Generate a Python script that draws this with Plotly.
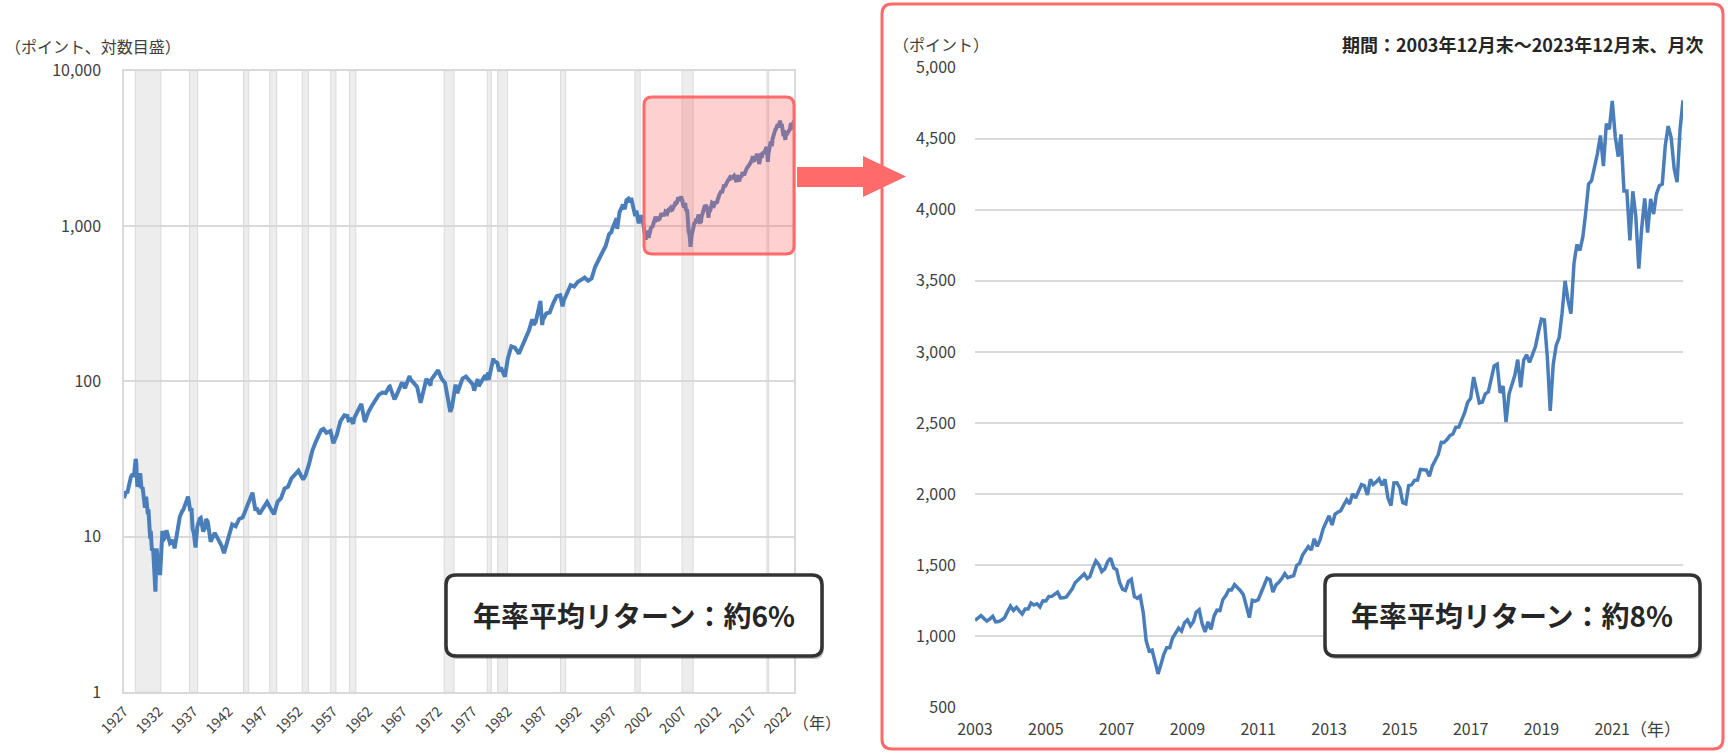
import plotly.graph_objects as go
import pandas as pd

W, H = 1728, 753

# ---------------- data ----------------
left_dates = [
    "1927-12", "1928-03", "1928-06", "1928-09", "1928-12",
    "1929-03", "1929-05", "1929-08", "1929-09", "1929-10", "1929-11", "1929-12",
    "1930-03", "1930-04", "1930-06", "1930-08", "1930-10", "1930-12",
    "1931-02", "1931-05", "1931-06", "1931-09", "1931-10", "1931-12",
    "1932-02", "1932-05", "1932-06", "1932-07", "1932-08", "1932-10", "1932-12",
    "1933-02", "1933-04", "1933-06", "1933-07", "1933-09", "1933-12",
    "1934-01", "1934-07", "1934-12",
    "1935-03", "1935-09", "1935-12",
    "1936-04", "1936-06", "1936-12",
    "1937-02", "1937-06", "1937-08", "1937-10", "1937-12",
    "1938-03", "1938-06", "1938-10", "1938-12",
    "1939-04", "1939-08", "1939-09", "1939-12",
    "1940-05", "1940-12", "1941-06", "1941-12",
    "1942-04", "1942-12", "1943-06", "1943-12",
    "1944-06", "1944-12", "1945-06", "1945-12",
    "1946-05", "1946-10", "1946-12", "1947-05", "1947-12",
    "1948-06", "1948-12", "1949-06", "1949-12",
    "1950-06", "1950-12", "1951-06", "1951-12",
    "1952-06", "1952-12", "1953-08", "1953-12",
    "1954-06", "1954-12", "1955-06", "1955-09", "1955-12",
    "1956-03", "1956-07", "1956-12", "1957-07", "1957-10", "1957-12",
    "1958-06", "1958-12", "1959-07", "1959-12",
    "1960-02", "1960-06", "1960-10", "1960-12",
    "1961-06", "1961-11", "1961-12", "1962-06", "1962-12",
    "1963-06", "1963-12", "1964-06", "1964-12", "1965-06", "1965-12",
    "1966-01", "1966-09", "1966-12", "1967-09", "1967-12",
    "1968-03", "1968-11", "1968-12", "1969-06", "1969-12",
    "1970-06", "1970-12", "1971-04", "1971-11", "1971-12", "1972-12",
    "1973-06", "1973-12", "1974-09", "1974-12",
    "1975-06", "1975-09", "1975-12", "1976-06", "1976-12", "1977-12",
    "1978-02", "1978-08", "1978-10", "1978-12",
    "1979-09", "1979-10", "1979-12",
    "1980-02", "1980-03", "1980-11", "1980-12",
    "1981-06", "1981-09", "1981-12", "1982-07", "1982-12",
    "1983-06", "1983-12", "1984-07", "1984-12", "1985-06", "1985-12",
    "1986-06", "1986-09", "1986-12", "1987-08", "1987-11", "1987-12",
    "1988-06", "1988-12", "1989-06", "1989-12",
    "1990-06", "1990-10", "1990-12", "1991-06", "1991-12",
    "1992-06", "1992-12", "1993-06", "1993-12", "1994-06", "1994-12",
    "1995-06", "1995-12", "1996-06", "1996-12",
    "1997-06", "1997-10", "1997-12", "1998-07", "1998-08", "1998-12",
    "1999-06", "1999-09", "1999-12",
    "2000-03", "2000-05", "2000-08", "2000-12",
    "2001-03", "2001-05", "2001-09", "2001-12",
    "2002-03", "2002-07", "2002-09", "2002-11", "2002-12",
    "2003-02", "2003-06", "2003-09", "2003-11",
]
left_values = [
    17.66, 19.28, 19.37, 21.4, 24.35,
    25.3, 24.2, 31.7, 30.0, 24.5, 21.0, 21.45,
    25.0, 25.5, 20.5, 20.8, 17.9, 15.34,
    18.1, 14.0, 15.0, 9.7, 10.9, 8.12,
    8.4, 4.47, 4.43, 6.1, 8.4, 6.9, 6.89,
    5.66, 8.3, 10.9, 9.9, 9.7, 10.10,
    11.0, 9.1, 9.50,
    8.4, 11.6, 13.43,
    14.6, 14.9, 17.18,
    18.1, 14.6, 15.3, 11.2, 10.55,
    8.5, 11.56, 13.06, 13.21,
    10.8, 11.5, 13.0, 12.49,
    9.27, 10.58, 9.6, 8.69,
    7.84, 9.77, 12.0, 11.67,
    13.0, 13.28, 15.1, 17.36,
    19.2, 14.7, 15.30, 14.0, 15.30,
    16.74, 15.20, 13.97, 16.76,
    17.69, 20.41, 20.96, 23.77,
    24.96, 26.57, 23.32, 24.81,
    29.21, 35.98, 41.03, 43.67, 45.48,
    48.48, 49.39, 46.67, 47.91, 41.06, 39.99,
    45.24, 55.21, 60.51, 59.89,
    56.12, 56.92, 53.39, 58.11,
    64.64, 71.32, 71.55, 54.75, 63.10,
    69.37, 75.02, 81.69, 84.75, 84.12, 92.43,
    92.88, 76.56, 80.33, 96.71, 96.47,
    90.20, 108.37, 103.86, 97.71, 92.06,
    72.72, 92.15, 103.95, 93.99, 102.09, 118.05,
    104.26, 97.55, 63.54, 68.56,
    95.19, 83.87, 90.19, 104.28, 107.46, 95.10,
    87.04, 103.29, 93.15, 96.11,
    109.32, 101.82, 107.94,
    113.66, 102.09, 140.52, 135.76,
    131.21, 116.18, 122.55, 107.09, 140.64,
    168.11, 164.93, 150.66, 167.24, 191.85, 211.28,
    250.84, 231.32, 242.17, 329.80, 230.30, 247.08,
    273.50, 277.72, 317.98, 353.40,
    358.02, 304.00, 330.22, 371.16, 417.09,
    408.14, 435.71, 450.53, 466.45, 444.27, 459.27,
    544.75, 615.93, 670.63, 740.74,
    885.14, 914.62, 970.43, 1120.67, 957.28, 1229.23,
    1372.71, 1282.71, 1469.25,
    1498.58, 1420.60, 1517.68, 1320.28,
    1160.33, 1255.82, 1040.94, 1148.08,
    1147.39, 911.62, 815.28, 936.31, 879.82,
    841.15, 974.50, 995.97, 1058.20,
]

right_start = "2003-12"
right_values = [
    1111.92,
    1131.13, 1144.94, 1126.21, 1107.30, 1120.68, 1140.84, 1101.72, 1104.24, 1114.58, 1130.20, 1173.82, 1211.92,
    1181.27, 1203.60, 1180.59, 1156.85, 1191.50, 1191.33, 1234.18, 1220.33, 1228.81, 1207.01, 1249.48, 1248.29,
    1280.08, 1280.66, 1294.83, 1310.61, 1270.09, 1270.20, 1276.66, 1303.82, 1335.85, 1377.94, 1400.63, 1418.30,
    1438.24, 1406.82, 1420.86, 1482.37, 1530.62, 1503.35, 1455.27, 1473.99, 1526.75, 1549.38, 1481.14, 1468.36,
    1378.55, 1330.63, 1322.70, 1385.59, 1400.38, 1280.00, 1267.38, 1282.83, 1166.36, 968.75, 896.24, 903.25,
    825.88, 735.09, 797.87, 872.81, 919.14, 919.32, 987.48, 1020.62, 1057.08, 1036.19, 1095.63, 1115.10,
    1073.87, 1104.49, 1169.43, 1186.69, 1089.41, 1030.71, 1101.60, 1049.33, 1141.20, 1183.26, 1180.55, 1257.64,
    1286.12, 1327.22, 1325.83, 1363.61, 1345.20, 1320.64, 1292.28, 1218.89, 1131.42, 1253.30, 1246.96, 1257.60,
    1312.41, 1365.68, 1408.47, 1397.91, 1310.33, 1362.16, 1379.32, 1406.58, 1440.67, 1412.16, 1416.18, 1426.19,
    1498.11, 1514.68, 1569.19, 1597.57, 1630.74, 1606.28, 1685.73, 1632.97, 1681.55, 1756.54, 1805.81, 1848.36,
    1782.59, 1859.45, 1872.34, 1883.95, 1923.57, 1960.23, 1930.67, 2003.37, 1972.29, 2018.05, 2067.56, 2058.90,
    1994.99, 2104.50, 2067.89, 2085.51, 2107.39, 2063.11, 2103.84, 1972.18, 1920.03, 2079.36, 2080.41, 2043.94,
    1940.24, 1932.23, 2059.74, 2065.30, 2096.95, 2098.86, 2173.60, 2170.95, 2168.27, 2126.15, 2198.81, 2238.83,
    2278.87, 2363.64, 2362.72, 2384.20, 2411.80, 2423.41, 2470.30, 2471.65, 2519.36, 2575.26, 2647.58, 2673.61,
    2823.81, 2713.83, 2640.87, 2648.05, 2705.27, 2718.37, 2816.29, 2901.52, 2913.98, 2711.74, 2760.17, 2506.85,
    2704.10, 2784.49, 2834.40, 2945.83, 2752.06, 2941.76, 2980.38, 2926.46, 2976.74, 3037.56, 3140.98, 3230.78,
    3225.52, 2954.22, 2584.59, 2912.43, 3044.31, 3100.29, 3271.12, 3500.31, 3363.00, 3269.96, 3621.63, 3756.07,
    3714.24, 3811.15, 3972.89, 4181.17, 4204.11, 4297.50, 4395.26, 4522.68, 4307.54, 4605.38, 4567.00, 4766.18,
    4515.55, 4373.94, 4530.41, 4131.93, 4132.15, 3785.38, 4130.29, 3955.00, 3585.62, 3871.98, 4080.11, 3839.50,
    4076.60, 3970.15, 4109.31, 4169.48, 4179.83, 4450.38, 4588.96, 4507.66, 4288.05, 4193.80, 4567.80, 4769.83,
]

recession_start = ["1929-08", "1937-05", "1945-02", "1948-11", "1953-07", "1957-08", "1960-04",
                   "1973-11", "1980-01", "1981-07", "1990-07", "2001-03", "2007-12", "2020-02"]
recession_end = ["1933-03", "1938-06", "1945-10", "1949-10", "1954-05", "1958-04", "1961-02",
                 "1975-03", "1980-07", "1982-11", "1991-03", "2001-11", "2009-06", "2020-04"]

left_tick_years = [1927, 1932, 1937, 1942, 1947, 1952, 1957, 1962, 1967, 1972,
                   1977, 1982, 1987, 1992, 1997, 2002, 2007, 2012, 2017, 2022]
right_tick_years = [2003, 2005, 2007, 2009, 2011, 2013, 2015, 2017, 2019, 2021]
left_y_ticks = [1, 10, 100, 1000, 10000]
left_y_text = ["1", "10", "100", "1,000", "10,000"]
right_y_ticks = [500, 1000, 1500, 2000, 2500, 3000, 3500, 4000, 4500, 5000]

left_note = "年率平均リターン：約6%"
right_note = "年率平均リターン：約8%"
period_text = "期間：2003年12月末～2023年12月末、月次"

# ---------------- build ----------------
right_dates = pd.date_range(right_start + "-01", periods=len(right_values), freq="MS")
left_x = [pd.Timestamp(d + "-01") for d in left_dates] + list(right_dates)
left_y = left_values + right_values

BLUE = "#4A7EBB"
RED = "#FF6B6B"
GRID = "#D9D9D9"
TXT = "#404040"
FONT = "Noto Sans CJK JP, Noto Sans, sans-serif"


def fx(p):
    return p / W


def fy(p):
    return 1 - p / H


def rrect(x0, y0, x1, y1, r):
    def P(x, y):
        return f"{fx(x):.6f},{fy(y):.6f}"
    return (f"M {P(x0 + r, y0)} L {P(x1 - r, y0)} Q {P(x1, y0)} {P(x1, y0 + r)} "
            f"L {P(x1, y1 - r)} Q {P(x1, y1)} {P(x1 - r, y1)} L {P(x0 + r, y1)} "
            f"Q {P(x0, y1)} {P(x0, y1 - r)} L {P(x0, y0 + r)} Q {P(x0, y0)} {P(x0 + r, y0)} Z")


def poly(pts):
    return "M " + " L ".join(f"{fx(x):.6f},{fy(y):.6f}" for x, y in pts) + " Z"


fig = go.Figure()
fig.add_trace(go.Scatter(x=left_x, y=left_y, mode="lines",
                         line=dict(color=BLUE, width=4), xaxis="x", yaxis="y",
                         showlegend=False, hoverinfo="skip"))
fig.add_trace(go.Scatter(x=right_dates, y=right_values, mode="lines",
                         line=dict(color=BLUE, width=3.5), xaxis="x2", yaxis="y2",
                         showlegend=False, hoverinfo="skip"))

shapes = []
# recession bands
for s, e in zip(recession_start, recession_end):
    x0 = pd.Timestamp(s + "-01") - pd.Timedelta(days=15)
    x1 = pd.Timestamp(e + "-01") + pd.Timedelta(days=15)
    shapes.append(dict(type="rect", xref="x", yref="y domain", x0=x0, x1=x1, y0=0, y1=1,
                       fillcolor="#EDEDED", line=dict(color="#DADADA", width=1), layer="below"))

# highlight box on left chart
shapes.append(dict(type="path", xref="paper", yref="paper", path=rrect(644, 97, 794, 254, 8),
                   fillcolor="rgba(255,99,99,0.3)", line=dict(color=RED, width=3), layer="above"))
# arrow
shapes.append(dict(type="path", xref="paper", yref="paper",
                   path=poly([(797, 167), (863, 167), (863, 156), (906, 176.5),
                              (863, 197), (863, 187), (797, 187)]),
                   fillcolor=RED, line=dict(width=0), layer="above"))
# right panel border
shapes.append(dict(type="path", xref="paper", yref="paper", path=rrect(882, 4, 1723, 749, 10),
                   fillcolor="rgba(0,0,0,0)", line=dict(color=RED, width=3), layer="above"))
# note boxes (shadow + box)
for (x0, y0, x1, y1) in [(446, 575, 822, 656), (1325, 575, 1700, 656)]:
    shapes.append(dict(type="path", xref="paper", yref="paper", path=rrect(x0 + 2, y0 + 3, x1 + 2, y1 + 3, 10),
                       fillcolor="rgba(0,0,0,0.25)", line=dict(width=0), layer="above"))
    shapes.append(dict(type="path", xref="paper", yref="paper", path=rrect(x0, y0, x1, y1, 10),
                       fillcolor="white", line=dict(color="#333333", width=3.5), layer="above"))

annotations = [
    dict(text="（ポイント、対数目盛）", x=fx(3), y=fy(46), xref="paper", yref="paper",
         xanchor="left", yanchor="middle", showarrow=False, font=dict(size=16, color=TXT, family=FONT)),
    dict(text="（年）", x=fx(817), y=fy(722), xref="paper", yref="paper",
         xanchor="center", yanchor="middle", showarrow=False, font=dict(size=16, color=TXT, family=FONT)),
    dict(text="（ポイント）", x=fx(891), y=fy(44), xref="paper", yref="paper",
         xanchor="left", yanchor="middle", showarrow=False, font=dict(size=16, color=TXT, family=FONT)),
    dict(text="<b>" + period_text + "</b>", x=fx(1705), y=fy(44), xref="paper", yref="paper",
         xanchor="right", yanchor="middle", showarrow=False, font=dict(size=18, color="#262626", family=FONT)),
    dict(text="（年）", x=fx(1655), y=fy(728), xref="paper", yref="paper",
         xanchor="center", yanchor="middle", showarrow=False, font=dict(size=17, color=TXT, family=FONT)),
    dict(text="<b>" + left_note + "</b>", x=fx(634), y=fy(615), xref="paper", yref="paper",
         xanchor="center", yanchor="middle", showarrow=False, font=dict(size=28, color="#262626", family=FONT)),
    dict(text="<b>" + right_note + "</b>", x=fx(1512), y=fy(615), xref="paper", yref="paper",
         xanchor="center", yanchor="middle", showarrow=False, font=dict(size=28, color="#262626", family=FONT)),
]

fig.update_layout(
    width=W, height=H, margin=dict(l=0, r=0, t=0, b=0, pad=0, autoexpand=False),
    paper_bgcolor="white", plot_bgcolor="rgba(0,0,0,0)",
    font=dict(family=FONT, color=TXT),
    showlegend=False,
    shapes=shapes, annotations=annotations,
    xaxis=dict(domain=[fx(124), fx(794)], type="date", automargin=False,
               range=[pd.Timestamp("1927-12-01"), pd.Timestamp("2023-12-01")],
               tickvals=[pd.Timestamp(f"{y}-12-01") for y in left_tick_years],
               ticktext=[str(y) for y in left_tick_years],
               tickangle=-45, tickfont=dict(size=14, color=TXT),
               showgrid=False, showline=True, linecolor=GRID, linewidth=1.5, mirror=True,
               ticks="", ticklabelstandoff=4, zeroline=False, anchor="y"),
    yaxis=dict(domain=[fy(692), fy(70.7)], type="log", range=[0, 4], automargin=False,
               tickvals=left_y_ticks, ticktext=left_y_text, tickfont=dict(size=16, color=TXT),
               showgrid=True, gridcolor=GRID, gridwidth=1.5,
               showline=True, linecolor=GRID, linewidth=1.5, mirror=True,
               ticks="", ticklabelstandoff=18, zeroline=False, anchor="x"),
    xaxis2=dict(domain=[fx(975), fx(1683)], type="date", automargin=False,
                range=[pd.Timestamp("2003-12-01"), pd.Timestamp("2023-12-01")],
                tickvals=[pd.Timestamp(f"{y}-12-01") for y in right_tick_years],
                ticktext=[str(y) for y in right_tick_years],
                tickangle=0, tickfont=dict(size=16, color=TXT),
                showgrid=False, showline=False, ticks="", ticklabelstandoff=10,
                zeroline=False, anchor="y2"),
    yaxis2=dict(domain=[fy(707.5), fy(67.5)], range=[499, 5001], automargin=False,
                tickvals=right_y_ticks, tickformat=",", tickfont=dict(size=16, color=TXT),
                showgrid=True, gridcolor=GRID, gridwidth=1.5, showline=False,
                ticks="", ticklabelstandoff=18, zeroline=False, anchor="x2"),
)

fig.write_html("out.html", config={"displayModeBar": False})
